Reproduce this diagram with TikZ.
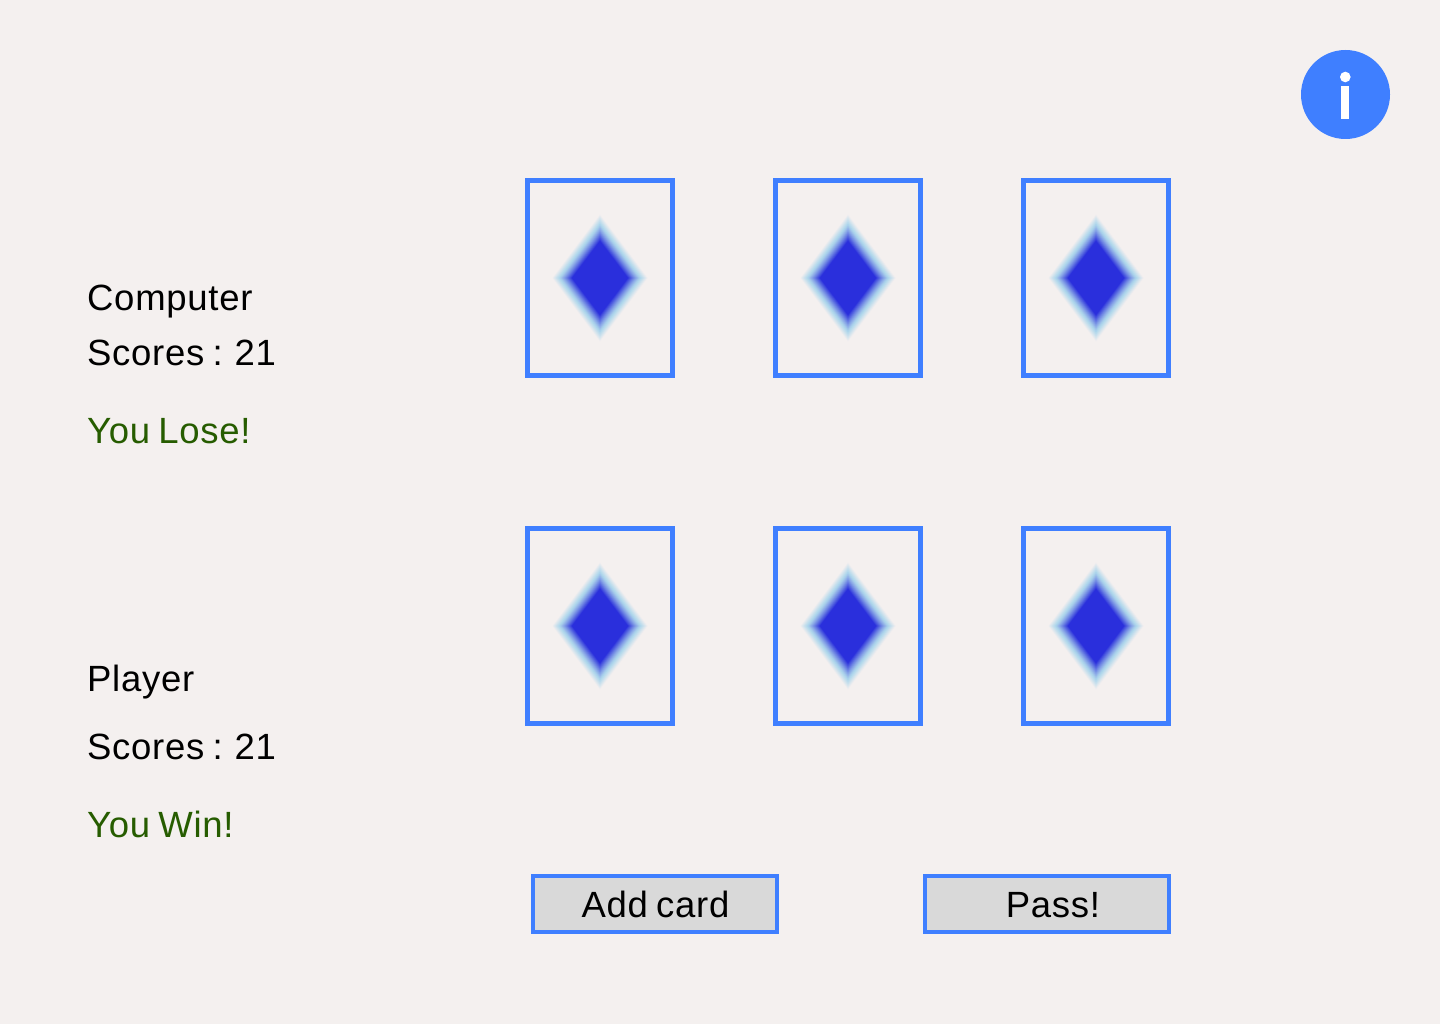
\documentclass[tikz,border=0pt]{standalone}
\usepackage{fontspec}
\setmainfont[LetterSpace=2,WordSpace=0.75]{Liberation Sans}
\definecolor{bg}{HTML}{F4F0EF}
\definecolor{edge}{HTML}{3F7FFF}
\definecolor{suit}{HTML}{2A2FDC}
\definecolor{halo}{HTML}{B0D8EC}
\definecolor{btn}{HTML}{D9D9D9}
\definecolor{win}{HTML}{265C00}
\tikzset{
  x=1pt,y=-1pt,
  card/.style={draw=edge,line width=5pt,fill=bg,minimum width=145pt,minimum height=195pt,inner sep=0pt,outer sep=0pt},
  button/.style={draw=edge,line width=4pt,fill=btn,minimum width=244pt,minimum height=56pt,inner sep=0pt,outer sep=0pt},
  label/.style={anchor=base west,inner sep=0pt,font=\fontsize{36.5}{36.5}\selectfont},
  btext/.style={anchor=base,inner sep=0pt,font=\fontsize{36.5}{36.5}\selectfont},
  status/.style={label,text=win},
}
\newcommand{\suitmark}[2]{%
  \foreach \k in {0,...,40}{%
    \pgfmathsetmacro{\t}{\k/40}%
    \pgfmathsetmacro{\w}{48-20*\t}%
    \pgfmathsetmacro{\h}{64-27*\t}%
    \pgfmathtruncatemacro{\pa}{min(100,\t/0.35*100)}%
    \pgfmathtruncatemacro{\pb}{100*(max(0,(\t-0.35)/0.65))^1.2}%
    \colorlet{tmpc}{halo!\pa!bg}%
    \colorlet{tmpd}{suit!\pb!tmpc}%
    \fill[tmpd] (#1-\w,#2) -- (#1,#2-\h) -- (#1+\w,#2) -- (#1,#2+\h) -- cycle;
  }%
}
\begin{document}
\begin{tikzpicture}
\useasboundingbox (0,0) rectangle (1440,1024);
\fill[bg] (0,0) rectangle (1440,1024);
\node[circle,fill=edge,minimum size=89pt,inner sep=0pt] (info) at (1345.5,94.5) {};
\fill[white] (1345.3,77) circle (5.3);
\fill[white] (1341,86) rectangle (1349.3,119);
\node[card] (c1) at (600,278) {};
\node[card] (c2) at (848,278) {};
\node[card] (c3) at (1096,278) {};
\node[card] (c4) at (600,626) {};
\node[card] (c5) at (848,626) {};
\node[card] (c6) at (1096,626) {};
\suitmark{600}{278}\suitmark{848}{278}\suitmark{1096}{278}
\suitmark{600}{626}\suitmark{848}{626}\suitmark{1096}{626}
\node[label] (computer) at (87,311) {Computer};
\node[label] (cscore) at (87,365) {Scores : 21};
\node[status] (lose) at (87,443) {You Lose!};
\node[label] (player) at (87,691) {Player};
\node[label] (pscore) at (87,759) {Scores : 21};
\node[status] (winmsg) at (87,837) {You Win!};
\node[button] (add) at (655,904) {};
\node[button] (pass) at (1047,904) {};
\node[btext] (addt) at (655.5,917) {Add card};
\node[btext] (passt) at (1053,917) {Pass!};
\end{tikzpicture}
\end{document}
